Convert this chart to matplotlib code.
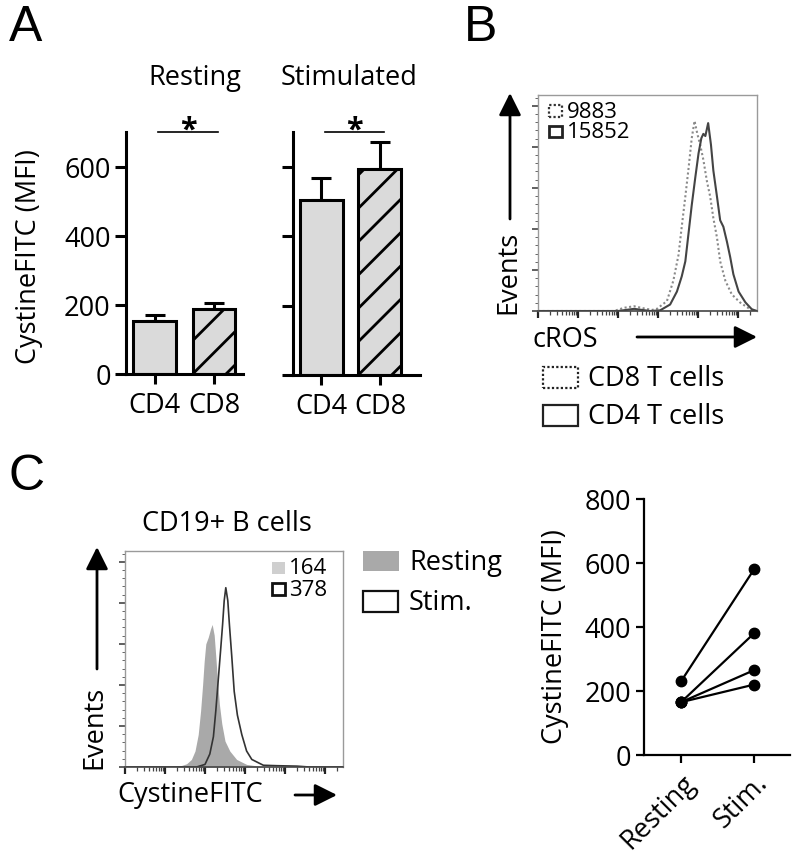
import numpy as np
import matplotlib
matplotlib.use("Agg")
import matplotlib.pyplot as plt
from matplotlib.patches import Rectangle, FancyArrowPatch
from matplotlib.ticker import MultipleLocator, FixedLocator, NullFormatter

## Datos
# Panel A: barras (media y error superior)
cats_a = ["CD4", "CD8"]
resting_mean = [152, 187]
resting_err = [20, 19]
stim_mean = [503, 593]
stim_err = [64, 77]

# Panel B: histogramas (posición en décadas, altura relativa)
b_x_cd8 = [0, 1.9, 2.15, 2.4, 2.65, 2.85, 2.97, 3.22, 3.38, 3.51, 3.59, 3.68, 3.76, 3.84,
           3.91, 3.98, 4.05, 4.13, 4.22, 4.30, 4.38, 4.47, 4.55, 4.68, 4.84, 5.05, 5.30, 5.45]
b_h_cd8 = [0, 0, 0.015, 0.022, 0.012, 0.005, 0.01, 0.046, 0.14, 0.26, 0.39, 0.53, 0.66, 0.80,
           0.88, 0.82, 0.77, 0.70, 0.60, 0.53, 0.43, 0.34, 0.23, 0.14, 0.077, 0.039, 0.008, 0]
b_x_cd4 = [0, 2.0, 2.4, 2.8, 3.05, 3.30, 3.47, 3.59, 3.68, 3.76, 3.84, 3.93, 4.01, 4.08, 4.13,
           4.18, 4.25, 4.32, 4.38, 4.47, 4.55, 4.63, 4.72, 4.80, 4.88, 5.01, 5.18, 5.34, 5.47]
b_h_cd4 = [0, 0, 0.01, 0, 0.003, 0.03, 0.09, 0.16, 0.23, 0.36, 0.49, 0.62, 0.73, 0.80, 0.82,
           0.81, 0.87, 0.77, 0.65, 0.53, 0.42, 0.39, 0.32, 0.25, 0.17, 0.09, 0.04, 0.008, 0]

# Panel C: histogramas de células B
c_x_rest = [0, 1.30, 1.54, 1.66, 1.75, 1.83, 1.89, 1.94, 1.98, 2.02, 2.08, 2.14, 2.18, 2.23,
            2.27, 2.32, 2.36, 2.42, 2.50, 2.62, 2.79, 3.04, 3.38, 3.54, 5.45]
c_h_rest = [0, 0, 0.015, 0.035, 0.074, 0.15, 0.26, 0.38, 0.49, 0.57, 0.60, 0.64, 0.66, 0.61,
            0.51, 0.38, 0.29, 0.20, 0.12, 0.074, 0.035, 0.012, 0.003, 0, 0]
c_x_stim = [0, 1.79, 2.00, 2.12, 2.21, 2.27, 2.33, 2.39, 2.44, 2.48, 2.52, 2.57, 2.61, 2.67,
            2.73, 2.81, 2.92, 3.04, 3.17, 3.33, 3.46, 3.8, 4.3, 4.6, 5.45]
c_h_stim = [0, 0, 0.012, 0.06, 0.14, 0.26, 0.40, 0.54, 0.66, 0.77, 0.83, 0.77, 0.66, 0.51,
            0.35, 0.24, 0.15, 0.074, 0.035, 0.02, 0.008, 0.006, 0.004, 0, 0]

# Panel C derecha: pares Resting -> Stim.
cats_c = ["Resting", "Stim."]
pair_rest = [230, 165, 165, 165]
pair_stim = [580, 380, 265, 220]

## Figura
plt.rcParams['font.family'] = ['Open Sans', 'DejaVu Sans']
plt.rcParams['hatch.linewidth'] = 2.0
FS = 19.5
W, H = 800, 853
fig = plt.figure(figsize=(8, 8.53), dpi=100)


def rect(l, t, r, b):
    return [l / W, 1 - b / H, (r - l) / W, (b - t) / H]


def pt(x, y):
    return (x / W, 1 - y / H)


def txt(x, y, s, **kw):
    kw.setdefault('fontsize', FS)
    kw.setdefault('va', 'center')
    fig.text(*pt(x, y), s, **kw)


def key(l, t, r, b, **kw):
    fig.add_artist(Rectangle(pt(l, b), (r - l) / W, (b - t) / H,
                             transform=fig.transFigure, **kw))


def arrow(x0, y0, x1, y1):
    fig.add_artist(FancyArrowPatch(pt(x0, y0), pt(x1, y1), transform=fig.transFigure,
                                   arrowstyle='-|>,head_length=0.9,head_width=0.45',
                                   mutation_scale=15, lw=2, color='black',
                                   shrinkA=0, shrinkB=0))


# Letras de panel
for lx, ly, s in [(26, 28, 'A'), (481, 28, 'B'), (27, 477, 'C')]:
    txt(lx, ly, s, ha='center', fontsize=36, family='Liberation Sans')

## Panel A
pos = np.arange(2)
panels_a = [(rect(126, 133, 243, 375), resting_mean, resting_err, (-0.479, 1.487), 0.72),
            (rect(293, 133, 420, 376), stim_mean, stim_err, (-0.487, 1.684), 0.735)]
for r, means, errs, xl, bw in panels_a:
    ax = fig.add_axes(r)
    ax.errorbar(pos, means, yerr=[np.zeros(2), errs], fmt='none', ecolor='black',
                elinewidth=2.2, capsize=7, capthick=2.2, zorder=1)
    bars = ax.bar(pos, means, bw, color='#dadada', edgecolor='black', linewidth=2.2, zorder=2)
    bars[1].set_hatch('/')
    ax.plot([0.06, 1.07], [700, 700], color='black', lw=1.2, clip_on=False)
    ax.text(0.565, 685, '*', ha='center', va='baseline', fontsize=22, fontweight='bold')
    ax.set_xlim(*xl)
    ax.set_ylim(0, 700)
    ax.set_yticks([0, 200, 400, 600])
    ax.set_xticks(pos)
    ax.set_xticklabels(cats_a)
    for s in ['top', 'right']:
        ax.spines[s].set_visible(False)
    for s in ['left', 'bottom']:
        ax.spines[s].set_linewidth(2.2)
    ax.tick_params(axis='y', length=8, width=2.2, labelsize=FS, pad=3)
    ax.tick_params(axis='x', length=7, width=2.2, labelsize=FS, pad=5)
    if r is panels_a[1][0]:
        ax.set_yticklabels([])
txt(29, 257, 'CystineFITC (MFI)', ha='center', rotation=90)
txt(195, 78, 'Resting', ha='center')
txt(349, 78, 'Stimulated', ha='center')


def flow_axes(ax, xmax):
    ax.set_xlim(0, xmax)
    ax.set_ylim(0, 1)
    for s in ['top', 'right', 'left']:
        ax.spines[s].set_color('#9a9a9a')
        ax.spines[s].set_linewidth(1.0)
    ax.spines['bottom'].set_color('#444444')
    ax.spines['bottom'].set_linewidth(1.2)
    ax.xaxis.set_major_locator(FixedLocator(range(6)))
    minors = [k + np.log10(m) for k in range(6) for m in range(2, 10) if k + np.log10(m) < xmax]
    ax.xaxis.set_minor_locator(FixedLocator(minors))
    ax.yaxis.set_major_locator(MultipleLocator(0.19))
    ax.yaxis.set_minor_locator(MultipleLocator(0.038))
    ax.xaxis.set_major_formatter(NullFormatter())
    ax.yaxis.set_major_formatter(NullFormatter())
    ax.tick_params(axis='x', which='major', length=5, width=1.6, color='#222222')
    ax.tick_params(axis='x', which='minor', length=3, width=0.9, color='#444444')
    ax.tick_params(axis='y', which='major', length=4, width=1.2, color='#444444')
    ax.tick_params(axis='y', which='minor', length=2, width=0.7, color='#666666')


## Panel B
axb = fig.add_axes(rect(538, 96, 757, 312))
axb.plot(b_x_cd8, b_h_cd8, color='#8a8a8a', lw=1.5, ls=(0, (1, 1.2)))
axb.plot(b_x_cd4, b_h_cd4, color='#444444', lw=1.5)
flow_axes(axb, 5.47)
key(549, 106, 562, 118, fill=False, ec='#333333', lw=1.6, ls=(0, (1, 1)))
key(549, 127, 562, 138, fill=False, ec='#222222', lw=2)
txt(567, 112, '9883', fontsize=16)
txt(567, 132, '15852', fontsize=16)
arrow(510, 220, 510, 94)
txt(508, 272, 'Events', ha='center', rotation=90)
txt(533, 340, 'cROS')
arrow(637, 338, 757, 338)
key(543, 368, 578, 389, fill=False, ec='#222222', lw=1.6, ls=(0, (1, 1)))
key(543, 406, 578, 427, fill=False, ec='#222222', lw=1.6)
txt(588, 379, 'CD8 T cells')
txt(588, 417, 'CD4 T cells')

## Panel C izquierda
axc = fig.add_axes(rect(125, 552, 343, 768))
axc.fill_between(c_x_rest, c_h_rest, color='#a9a9a9', lw=0)
axc.plot(c_x_stim, c_h_stim, color='#333333', lw=1.2)
flow_axes(axc, 5.45)
key(272, 563, 285, 575, color='#cfcfcf', lw=0)
key(272, 584, 285, 596, fill=False, ec='#111111', lw=2)
txt(289, 569, '164', fontsize=16)
txt(289, 591, '378', fontsize=16)
txt(227, 524, 'CD19+ B cells', ha='center')
arrow(97, 670, 97, 548)
txt(94, 727, 'Events', ha='center', rotation=90)
txt(117, 795, 'CystineFITC')
arrow(295, 796, 337, 796)
key(363, 552, 399, 572, color='#a9a9a9', lw=0)
key(363, 592, 398, 613, fill=False, ec='#111111', lw=1.6)
txt(409, 563, 'Resting')
txt(409, 603, 'Stim.')

## Panel C derecha
axs = fig.add_axes(rect(644, 500, 790, 756))
for r0, s0 in zip(pair_rest, pair_stim):
    axs.plot([0, 1], [r0, s0], color='black', lw=1.6, marker='o', ms=7.5, clip_on=False)
axs.set_xlim(-0.507, 1.493)
axs.set_ylim(0, 800)
axs.set_yticks([0, 200, 400, 600, 800])
axs.set_xticks([0, 1])
axs.set_xticklabels(cats_c, rotation=45, ha='right', rotation_mode='anchor')
for s in ['top', 'right']:
    axs.spines[s].set_visible(False)
for s in ['left', 'bottom']:
    axs.spines[s].set_linewidth(1.6)
axs.tick_params(length=5.5, width=1.6, labelsize=FS, pad=4)
txt(555, 637, 'CystineFITC (MFI)', ha='center', rotation=90)

fig.savefig("out.png", dpi=100)
